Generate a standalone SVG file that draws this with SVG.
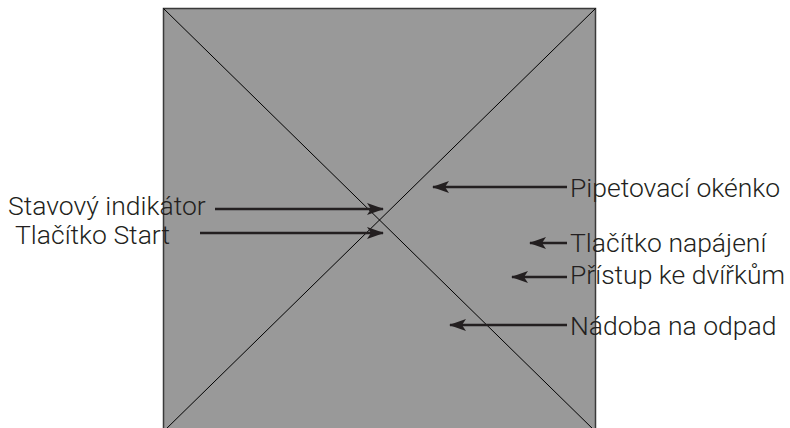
<svg xmlns="http://www.w3.org/2000/svg" width="790" height="428" viewBox="0 0 790 428">
<defs>
<marker id="ah" viewBox="0 0 17 12" refX="16" refY="6" markerWidth="17" markerHeight="12" markerUnits="userSpaceOnUse" orient="auto">
<path d="M0,0 L17,6 L0,12 L4,6 Z" fill="#231f20"/>
</marker>
<style>
.lbl{font-family:Roboto,"Liberation Sans",sans-serif;font-weight:300;font-size:26.5px;fill:#231f20}
.arr{stroke:#231f20;stroke-width:2.5;fill:none;marker-end:url(#ah)}
</style>
</defs>
<rect width="790" height="428" fill="#ffffff"/>
<g id="device">
<rect x="163.5" y="8.5" width="432" height="423" fill="#999999" stroke="#3a3a3a" stroke-width="1.5"/>
<line x1="163.5" y1="8.5" x2="595.5" y2="431.5" stroke="#000" stroke-width="1"/>
<line x1="595.5" y1="8.5" x2="163.5" y2="431.5" stroke="#000" stroke-width="1"/>
</g>
<g id="connectors">
<line class="arr" x1="215" y1="209" x2="383" y2="209"/>
<line class="arr" x1="200" y1="233" x2="383" y2="233"/>
<line class="arr" x1="567" y1="187" x2="433" y2="187"/>
<line class="arr" x1="567" y1="243" x2="530" y2="243"/>
<line class="arr" x1="567" y1="277" x2="512" y2="277"/>
<line class="arr" x1="567" y1="325" x2="450" y2="325"/>
</g>
<g id="label-stavovy"><text class="lbl" x="8" y="215">Stavový indikátor</text></g>
<g id="label-start"><text class="lbl" x="15" y="244">Tlačítko Start</text></g>
<g id="label-pipet"><text class="lbl" x="570" y="197">Pipetovací okénko</text></g>
<g id="label-napajeni"><text class="lbl" x="570" y="252">Tlačítko napájení</text></g>
<g id="label-pristup"><text class="lbl" x="570" y="284">Přístup ke dvířkům</text></g>
<g id="label-nadoba"><text class="lbl" x="570" y="335">Nádoba na odpad</text></g>
</svg>
